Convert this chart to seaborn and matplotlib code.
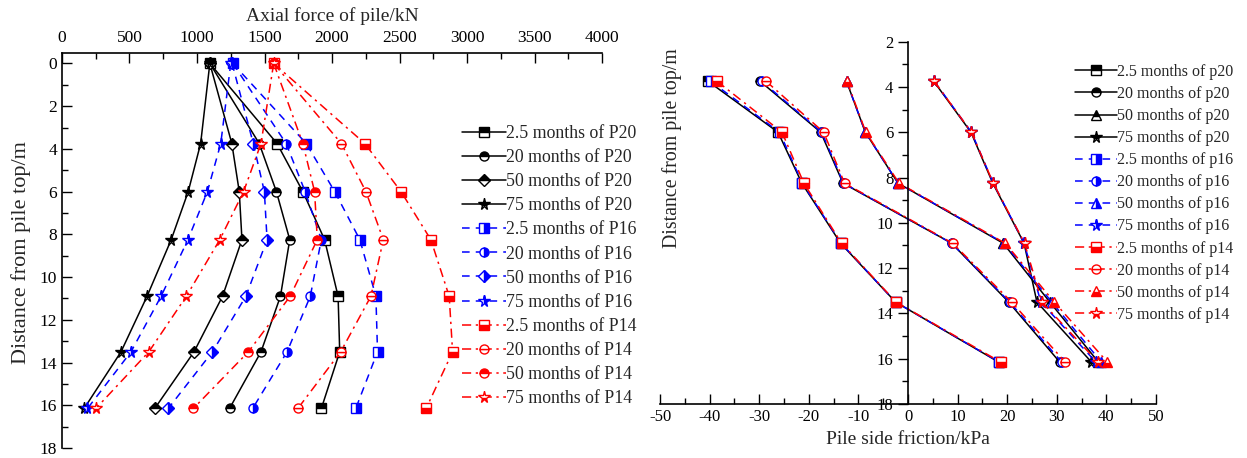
import matplotlib
matplotlib.use('Agg')
import matplotlib.pyplot as plt
import seaborn as sns
import pandas as pd
from matplotlib.ticker import MultipleLocator

# profundidade dos pontos de medida (m)
depth_axial = [0, 3.75, 6.0, 8.25, 10.9, 13.5, 16.15]
depth_friction = [3.75, 6.0, 8.25, 10.9, 13.5, 16.15]

# força axial (kN)
p20_axial_25 = [1095, 1593, 1784, 1945, 2045, 2057, 1921]
p20_axial_20 = [1095, 1461, 1588, 1687, 1618, 1474, 1241]
p20_axial_50 = [1095, 1258, 1313, 1333, 1189, 978, 687]
p20_axial_75 = [1095, 1027, 935, 809, 630, 437, 164]
p16_axial_25 = [1265, 1809, 2020, 2206, 2325, 2337, 2176]
p16_axial_20 = [1265, 1660, 1801, 1921, 1839, 1667, 1412]
p16_axial_50 = [1260, 1417, 1499, 1519, 1362, 1114, 787]
p16_axial_75 = [1250, 1176, 1077, 933, 734, 511, 189]
p14_axial_25 = [1568, 2243, 2511, 2732, 2868, 2893, 2697]
p14_axial_20 = [1568, 2069, 2251, 2380, 2288, 2064, 1747]
p14_axial_50 = [1568, 1784, 1871, 1891, 1690, 1380, 973]
p14_axial_75 = [1568, 1474, 1345, 1169, 921, 643, 251]

# atrito lateral (kPa)
p20_fric_25 = [-40.3, -26.2, -21.4, -13.6, -2.5, 18.3]
p20_fric_20 = [-29.8, -17.6, -13.1, 8.8, 20.3, 30.6]
p20_fric_50 = [-12.4, -8.6, -2.0, 19.2, 28.6, 38.4]
p20_fric_75 = [5.2, 12.7, 17.1, 23.4, 26.0, 37.0]
p16_fric_25 = [-39.8, -25.9, -21.3, -13.5, -2.5, 18.4]
p16_fric_20 = [-29.5, -17.4, -13.0, 8.8, 20.5, 31.0]
p16_fric_50 = [-12.4, -8.6, -2.0, 19.4, 29.0, 39.0]
p16_fric_75 = [5.3, 12.8, 17.2, 23.4, 26.8, 37.9]
p14_fric_25 = [-38.5, -25.4, -21.0, -13.4, -2.4, 18.7]
p14_fric_20 = [-28.6, -17.0, -12.8, 9.0, 20.9, 31.7]
p14_fric_50 = [-12.3, -8.5, -1.8, 19.6, 29.5, 40.2]
p14_fric_75 = [5.3, 12.8, 17.2, 23.5, 27.0, 38.3]

months = ['2.5', '20', '50', '75']

sns.set_theme(style='ticks')
plt.rcParams['font.family'] = ['Liberation Serif', 'DejaVu Serif']
plt.rcParams['axes.unicode_minus'] = False

BLACK, BLUE, RED = '#000000', '#0000ff', '#ff0000'
estilo_pilar = {
    'P20': dict(color=BLACK, linestyle='-'),
    'P16': dict(color=BLUE, linestyle=(0, (5, 4))),
    'P14': dict(color=RED, linestyle=(0, (6, 3, 1.5, 3))),
}


def desenha(ax, valores, depths, pile, marker, fill, label, face=None):
    df = pd.DataFrame({'x': valores, 'depth': depths})
    est = estilo_pilar[pile]
    cor = est['color']
    tam = 8.5 if marker == '*' else 6.5
    sns.lineplot(data=df, x='x', y='depth', orient='y', ax=ax, errorbar=None,
                 color=cor, linestyle=est['linestyle'], linewidth=1.1,
                 marker=marker, markersize=tam, fillstyle=fill,
                 markerfacecolor=face or cor, markerfacecoloralt='white',
                 markeredgecolor=cor, markeredgewidth=1.0, label=label)


fig = plt.figure(figsize=(12.47, 4.58), dpi=100)
ax1 = fig.add_axes([0.0497, 0.0218, 0.4331, 0.8631])
ax2 = fig.add_axes([0.5293, 0.1179, 0.3977, 0.7911])

# ---------- gráfico da esquerda: força axial ----------
series_axial = [
    (p20_axial_25, 'P20', 's', 'top', None), (p20_axial_20, 'P20', 'o', 'top', None),
    (p20_axial_50, 'P20', 'D', 'top', None), (p20_axial_75, 'P20', '*', 'top', None),
    (p16_axial_25, 'P16', 's', 'right', None), (p16_axial_20, 'P16', 'o', 'right', None),
    (p16_axial_50, 'P16', 'D', 'right', None), (p16_axial_75, 'P16', '*', 'right', None),
    (p14_axial_25, 'P14', 's', 'bottom', None), (p14_axial_20, 'P14', 'o', 'bottom', 'white'),
    (p14_axial_50, 'P14', 'o', 'top', None), (p14_axial_75, 'P14', '*', 'bottom', None),
]
for i, (vals, pile, mk, fill, face) in enumerate(series_axial):
    desenha(ax1, vals, depth_axial, pile, mk, fill, f'{months[i % 4]} months of {pile}', face)

ax1.set_xlim(0, 4000)
ax1.set_ylim(18, -0.5)
ax1.xaxis.tick_top()
ax1.xaxis.set_label_position('top')
ax1.xaxis.set_major_locator(MultipleLocator(500))
ax1.xaxis.set_minor_locator(MultipleLocator(250))
ax1.yaxis.set_major_locator(MultipleLocator(2))
ax1.yaxis.set_minor_locator(MultipleLocator(1))
ax1.tick_params(which='both', direction='in', labelsize=12.5, width=1, colors='black')
ax1.tick_params(which='major', length=7)
ax1.tick_params(which='minor', length=4)
ax1.tick_params(axis='x', pad=5)
for s in ['bottom', 'right']:
    ax1.spines[s].set_visible(False)
for s in ['top', 'left']:
    ax1.spines[s].set_linewidth(1.2)
    ax1.spines[s].set_color('black')
ax1.set_xlabel('Axial force of pile/kN', fontsize=14)
ax1.xaxis.set_label_coords(0.5, 1.08)
ax1.set_ylabel('Distance from pile top/m', fontsize=16)
ax1.yaxis.set_label_coords(-0.058, 0.495)

h, l = ax1.get_legend_handles_labels()
ax1.legend(h, l, loc='upper left', bbox_to_anchor=(462 / 1247, 1 - 125 / 458),
           bbox_transform=fig.transFigure, frameon=False, fontsize=12.8,
           handlelength=2.5, handletextpad=0.0, labelspacing=0.40, borderpad=0,
           borderaxespad=0, numpoints=1)

# ---------- gráfico da direita: atrito lateral ----------
series_fric = [
    (p20_fric_25, 'P20', 's', 'top', None), (p20_fric_20, 'P20', 'o', 'top', None),
    (p20_fric_50, 'P20', '^', 'top', None), (p20_fric_75, 'P20', '*', 'top', None),
    (p16_fric_25, 'P16', 's', 'right', None), (p16_fric_20, 'P16', 'o', 'right', None),
    (p16_fric_50, 'P16', '^', 'right', None), (p16_fric_75, 'P16', '*', 'right', None),
    (p14_fric_25, 'P14', 's', 'bottom', None), (p14_fric_20, 'P14', 'o', 'bottom', 'white'),
    (p14_fric_50, 'P14', '^', 'bottom', None), (p14_fric_75, 'P14', '*', 'bottom', None),
]
for i, (vals, pile, mk, fill, face) in enumerate(series_fric):
    desenha(ax2, vals, depth_friction, pile, mk, fill,
            f'{months[i % 4]} months of {pile.lower()}', face)

ax2.set_xlim(-50, 50)
ax2.set_ylim(18, 2)
ax2.xaxis.set_major_locator(MultipleLocator(10))
ax2.xaxis.set_minor_locator(MultipleLocator(5))
ax2.yaxis.set_major_locator(MultipleLocator(2))
ax2.yaxis.set_minor_locator(MultipleLocator(1))
ax2.spines['left'].set_position(('data', 0))
for s in ['top', 'right']:
    ax2.spines[s].set_visible(False)
for s in ['bottom', 'left']:
    ax2.spines[s].set_linewidth(1.2)
    ax2.spines[s].set_color('black')
ax2.tick_params(which='both', labelsize=12, width=1, colors='black')
ax2.tick_params(axis='x', which='both', direction='in')
ax2.tick_params(axis='y', which='both', direction='out')
ax2.tick_params(which='major', length=7)
ax2.tick_params(which='minor', length=4.5)
ax2.set_xlabel('Pile side friction/kPa', fontsize=14)
ax2.xaxis.set_label_coords(0.5, -0.075)
ax2.set_ylabel('Distance from pile top/m', fontsize=14.3)
ax2.yaxis.set_label_coords(0.045, 0.707)

h, l = ax2.get_legend_handles_labels()
ax2.legend(h, l, loc='upper left', bbox_to_anchor=(1075 / 1247, 1 - 64 / 458),
           bbox_transform=fig.transFigure, frameon=False, fontsize=11.5,
           handlelength=2.6, handletextpad=0.0, labelspacing=0.38, borderpad=0,
           borderaxespad=0, numpoints=1)

fig.savefig('out.png', dpi=100)
